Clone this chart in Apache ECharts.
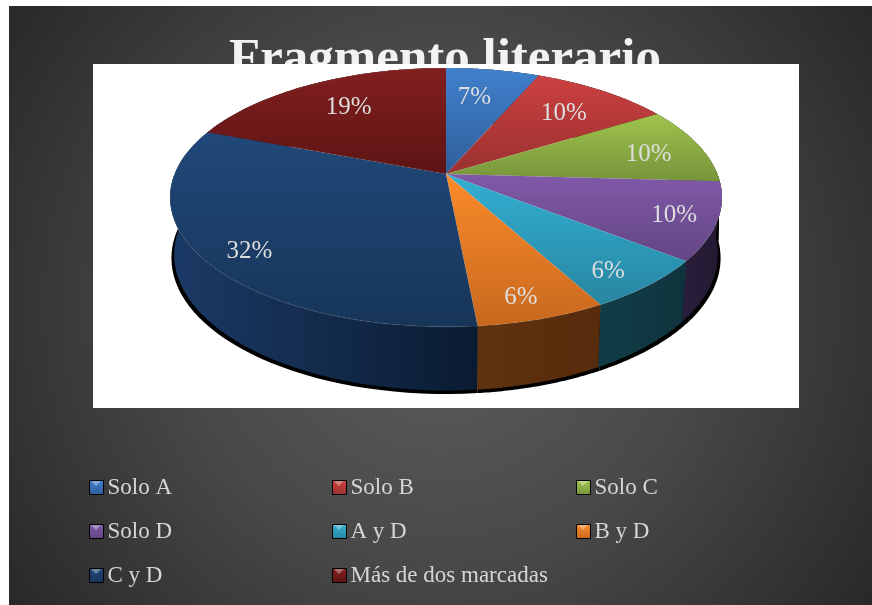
<!DOCTYPE html>
<html><head><meta charset="utf-8">
<style>html,body{margin:0;padding:0;background:#fff}#c{width:872px;height:605px}</style>
<script src="https://cdn.jsdelivr.net/npm/echarts@6/dist/echarts.min.js"></script>
</head><body><div id="c"></div>
<script>
var titleText = 'Fragmento literario';
var categories = ['Solo A','Solo B','Solo C','Solo D','A y D','B y D','C y D','Más de dos marcadas'];
var values = [6.52, 9.7, 9.7, 9.7, 6.43, 6.43, 32.3, 19.22];
var topLight = ['#4080cc','#cc4040','#9fc44c','#8059a8','#33afd2','#fb8b2a','#204879','#821f1f'];
var topDark  = ['#2f5e9a','#9a3130','#76943a','#634583','#2786a2','#c8681e','#173559','#5d1414'];
var wallLeft = ['#1d3c66','#5c1a1a','#46561f','#2a1f3c','#113d48','#5f3210','#1b3a66','#4a1010'];
var wallRight= ['#1d3c66','#5c1a1a','#46561f','#221930','#0f333d','#572b0b','#0a1b31','#4a1010'];
var labelRadius = [0.72, 0.73, 0.79, 0.85, 0.85, 0.86, 0.85, 0.73];
var labelTurnDeg = [-2.3, 0, 1.4, 0, 2, 1.2, -2.5, 1.5];

var CX = 446, APEX_Y = 174, A = 271.4, B = 125.2, K = 0.181;
var total = values.reduce(function(s, v){ return s + v; }, 0);
var starts = []; values.reduce(function(s, v, i){ starts[i] = s; return s + v; }, 0);

function angle(sum){ return sum / total * 2 * Math.PI; }
function top3d(t, r){
  var u = r * Math.sin(t), v = -r * Math.cos(t), w = 1 - K * v;
  return [CX + A * u / w, APEX_Y + B * v / w];
}
function bottom3d(t){
  var p = top3d(t, 1);
  return [CX + 0.985 * (p[0] - CX), 230 + 1.05 * (p[1] - APEX_Y)];
}
function arc(i, fn){
  var a0 = angle(starts[i]), a1 = angle(starts[i] + values[i]), n = 48, pts = [];
  for (var j = 0; j <= n; j++) pts.push(fn(a0 + (a1 - a0) * j / n));
  return pts;
}
function vGrad(c0, c1){ return new echarts.graphic.LinearGradient(0, 0, 0, 1, [{offset:0,color:c0},{offset:1,color:c1}]); }
function hGrad(c0, c1){ return new echarts.graphic.LinearGradient(0, 0, 1, 0, [{offset:0,color:c0},{offset:1,color:c1}]); }

function shadowItem(params){
  var i = params.dataIndex;
  var t = arc(i, function(a){ return top3d(a, 1); });
  var b = arc(i, function(a){
    var p = top3d(a, 1);
    return [CX + 0.995 * (p[0] - CX), 233.5 + 1.05 * (p[1] - APEX_Y)];
  }).reverse();
  return { type:'polygon', shape:{points:t.concat(b)}, style:{fill:'#000'} };
}
function wallItem(params){
  var i = params.dataIndex;
  var t = arc(i, function(a){ return top3d(a, 1); });
  var b = arc(i, bottom3d).reverse();
  return { type:'polygon', shape:{points:t.concat(b)}, style:{fill:hGrad(wallLeft[i], wallRight[i])} };
}
function topItem(i){
  return function(params, api){
    var v = api.value(0);
    var a0 = angle(starts[i]), a1 = angle(starts[i] + v), mid = (a0 + a1) / 2 + labelTurnDeg[i] * Math.PI / 180;
    var rim = arc(i, function(a){ return top3d(a, 1); });
    var lp = top3d(mid, labelRadius[i]);
    return { type:'group', children:[
      { type:'polygon', shape:{points:[top3d(0,0)].concat(rim)}, style:{fill:vGrad(topLight[i], topDark[i])} },
      { type:'polyline', shape:{points:rim}, style:{fill:null, stroke:'rgba(255,255,255,0.1)', lineWidth:1} },
      { type:'text', x:lp[0], y:lp[1] + 2, style:{ text:Math.round(v / total * 100) + '%', fill:'#dedede',
        font:'25px "Liberation Serif"', textAlign:'center', textVerticalAlign:'middle' } }
    ]};
  };
}

var series = [
  { type:'custom', name:'_shadow', coordinateSystem:'none', z:5, silent:true, renderItem:shadowItem, data:values.map(function(v){return [v];}) },
  { type:'custom', name:'_wall', coordinateSystem:'none', z:6, silent:true, renderItem:wallItem, data:values.map(function(v){return [v];}) }
];
categories.forEach(function(c, i){
  series.push({ type:'custom', name:c, coordinateSystem:'none', z:7, silent:true, renderItem:topItem(i), data:[[values[i]]] });
});

var COLS = [89, 332, 576], ROWS = [480, 524, 568];
var legends = [], swatches = [];
categories.forEach(function(c, i){
  var x = COLS[i % 3], y = ROWS[Math.floor(i / 3)];
  legends.push({ data:[c], left:x, top:y - 4, orient:'horizontal', itemWidth:14, itemHeight:14, selectedMode:false, z:8, padding:0,
    icon:'rect', itemStyle:{ color:vGrad(topLight[i], topDark[i]), borderColor:'#000', borderWidth:1 },
    textStyle:{ color:'#d6d6d6', fontFamily:'Liberation Serif', fontSize:23, padding:[0,0,0,-1] } });
  swatches.push({ type:'polygon', z:9, silent:true, shape:{points:[[x+2,y+1],[x+12,y+1],[x+7,y+6]]}, style:{fill:'rgba(255,255,255,0.35)'} });
});

var option = {
  animation:false,
  backgroundColor:'#fff',
  title:{ text:titleText, left:229, top:34, z:2, padding:0,
    textStyle:{ color:'#f2f2f2', fontFamily:'Liberation Serif', fontWeight:'bold', fontSize:51 } },
  legend:legends,
  graphic:{ elements:[
    { type:'rect', z:0, silent:true, shape:{x:9,y:6,width:863,height:599},
      style:{ fill:new echarts.graphic.RadialGradient(0.5, 0.5, 0.88, [{offset:0,color:'#5e5e5e'},{offset:0.5,color:'#484848'},{offset:1,color:'#282828'}]) } },
    { type:'rect', z:3, silent:true, shape:{x:93,y:64,width:706,height:344}, style:{fill:'#fff'} }
  ].concat(swatches) },
  series:series
};
echarts.init(document.getElementById('c'), null, {renderer:'canvas'}).setOption(option);
</script></body></html>
